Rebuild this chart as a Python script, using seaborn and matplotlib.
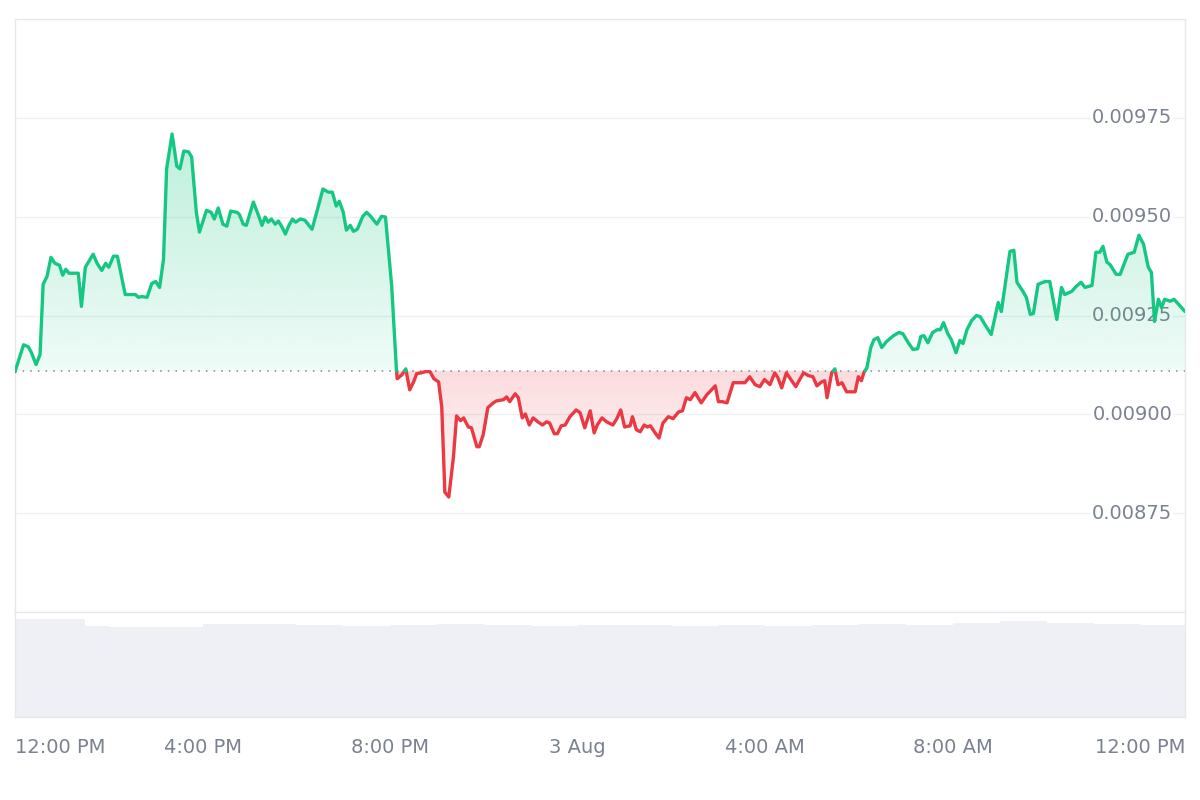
import numpy as np
import pandas as pd
import matplotlib
matplotlib.use("Agg")
import matplotlib.pyplot as plt
import seaborn as sns
from matplotlib.colors import to_rgb
from matplotlib.path import Path

# minutes after 12:00 PM (2 Aug)
minutes = [0, 11, 17, 21, 27, 32, 36, 41, 46, 51, 57, 61, 65, 69, 81, 85, 90, 100, 105, 111,
           116, 120, 126, 131, 141, 154, 158, 162, 169, 175, 180, 185, 190, 194, 201, 207, 211, 216, 222, 226,
           232, 236, 245, 251, 255, 260,
           266, 271, 276, 284, 287, 292, 296, 305, 311, 316, 320, 324, 328, 333, 337, 341, 346, 350, 355, 359,
           365, 371, 380, 386, 394, 401, 406, 411, 415, 420, 424, 429, 433, 438, 445, 450, 455, 463, 469, 474,
           482, 488,
           489, 495, 500, 505, 510, 514, 520, 525, 531, 536, 542, 546, 550, 555, 561, 565, 570, 574, 580, 584,
           591, 594, 599, 605, 612, 616, 625, 629, 633, 640, 644, 649, 653, 658, 663, 669, 675, 680, 684, 690,
           694, 699, 704, 710, 718, 723, 729, 736,
           741, 745, 751, 757, 765, 770, 775, 780, 787, 790, 795, 800, 805, 809, 813, 819, 824, 829, 836, 842,
           849, 854, 859, 864, 870, 878, 885, 896, 900, 905, 911, 919, 927, 934, 940, 947, 953, 959, 966, 972,
           976, 981, 987, 991, 999, 1004, 1009, 1015, 1021, 1026, 1032, 1036, 1039, 1045, 1049, 1053, 1058, 1064,
           1072, 1075, 1079, 1083, 1086, 1090,
           1095, 1099, 1104, 1109, 1115, 1124, 1131, 1136, 1143, 1149, 1155, 1159, 1163, 1168, 1174, 1180, 1184,
           1188, 1194, 1198, 1204, 1209, 1213, 1218, 1224, 1230, 1235, 1241, 1249, 1258, 1262, 1273, 1278,
           1282, 1289, 1294, 1299, 1303, 1309, 1318, 1324, 1333, 1339, 1343, 1352, 1358, 1364, 1369, 1378,
           1383, 1388, 1392, 1397, 1401, 1409, 1414, 1420, 1424, 1432, 1438, 1444, 1450, 1454, 1458, 1463,
           1467, 1471, 1478, 1483, 1488, 1497]

# price in units of 1e-5 USD
price_e5 = [910.8, 917.6, 917.1, 915.6, 912.6, 915.1, 932.9, 934.9, 939.7, 938.2, 937.7, 935.2, 936.7, 935.7,
            935.7, 927.3, 937.2, 940.5, 938.2, 936.4, 938.2, 937.2, 940.0, 940.0, 930.3, 930.3, 929.6, 929.8,
            929.6, 933.1, 933.6, 932.1, 939.2, 962.1, 970.9, 962.8, 962.1, 966.6, 966.4, 965.1, 951.1, 946.1,
            951.6, 951.1, 949.4, 952.2,
            948.1, 947.6, 951.4, 951.1, 950.6, 948.1, 947.8, 953.7, 950.6, 947.8, 949.9, 948.6, 949.4, 948.1,
            948.9, 947.6, 945.6, 947.6, 949.4, 948.6, 949.4, 949.1, 946.8, 951.1, 957.0, 956.2, 956.2, 952.7,
            953.9, 951.1, 946.6, 947.8, 946.3, 946.8, 950.1, 951.1, 950.1, 948.1, 950.1, 949.9, 932.4, 911.3,
            909.0, 910.0, 911.5, 906.2, 908.2, 910.3, 910.5, 910.8, 910.8, 909.0, 908.2, 901.9, 880.3, 879.1,
            889.2, 899.6, 898.4, 899.1, 896.8, 896.6, 891.8, 891.8, 894.8, 901.7, 902.9, 903.4, 903.7, 904.4,
            903.2, 905.2, 904.2, 899.1, 900.1, 897.3, 899.1, 898.1, 897.3, 898.1, 897.8, 895.1, 895.1, 897.1,
            897.3, 899.4, 901.1, 900.4, 896.6, 900.9,
            895.3, 897.3, 899.1, 898.1, 897.3, 898.9, 901.1, 896.8, 897.1, 899.4, 896.1, 895.6, 897.3, 896.8,
            897.1, 895.3, 894.0, 897.8, 899.4, 898.9, 900.6, 900.9, 904.2, 903.7, 905.5, 902.9, 904.9, 907.2,
            903.2, 903.2, 902.9, 908.0, 908.0, 908.0, 909.5, 907.5, 907.0, 908.8, 907.5, 910.5, 909.3, 906.7,
            910.5, 909.3, 907.0, 908.8, 910.5, 909.8, 909.5, 907.2, 908.2, 908.5, 904.2, 910.5, 911.5, 907.5,
            908.0, 905.7, 905.7, 905.7, 909.5, 908.5, 910.5, 911.8,
            916.9, 918.9, 919.4, 916.9, 918.4, 919.9, 920.7, 920.4, 918.1, 916.4, 916.6, 919.7, 919.9, 918.1,
            920.7, 921.4, 921.4, 923.2, 920.2, 918.9, 915.6, 918.7, 917.9, 921.4, 923.7, 925.0, 924.7, 922.7,
            920.2, 928.3, 926.0, 941.2, 941.5,
            933.4, 931.3, 929.6, 925.3, 925.5, 932.9, 933.6, 933.6, 924.0, 932.1, 930.3, 931.1, 932.4, 933.4,
            932.1, 932.6, 941.0, 941.0, 942.5, 938.5, 937.9, 935.4, 935.4, 938.5, 940.5, 941.0, 945.3, 943.0,
            937.2, 935.9, 923.5, 929.1, 927.0, 929.1, 928.6, 929.1, 928.0, 926.0]

open_price = 0.009110

# volume strip (relative height), roughly hourly
vol_minutes = [0, 60, 90, 120, 180, 240, 300, 360, 420, 480, 540, 600, 660, 720, 780, 840, 900,
               960, 1020, 1080, 1140, 1200, 1260, 1320, 1380, 1440, 1497]
vol_level = [0.93, 0.93, 0.87, 0.86, 0.86, 0.89, 0.89, 0.88, 0.87, 0.88, 0.89, 0.88, 0.87, 0.88,
             0.88, 0.87, 0.88, 0.87, 0.88, 0.89, 0.88, 0.90, 0.91, 0.90, 0.89, 0.88, 0.88]

tick_minutes = [0, 240, 480, 720, 960, 1200, 1440]
tick_labels = ["12:00 PM", "4:00 PM", "8:00 PM", "3 Aug", "4:00 AM", "8:00 AM", "12:00 PM"]
price_ticks = [0.00875, 0.00900, 0.00925, 0.00950, 0.00975]

GREEN = "#16c784"
RED = "#ea3943"
TXT = "#7a8190"

sns.set_theme(style="white")
plt.rcParams["font.family"] = ["DejaVu Sans"]

t = np.array(minutes, dtype=float)
p = np.array(price_e5) * 1e-5
assert len(t) == len(p)

# split the line into above / below runs where it crosses the open price
rows = []
seg = 0
side = "up" if p[0] >= open_price else "down"
rows.append((t[0], p[0], seg, side))
for i in range(1, len(t)):
    a, b = p[i - 1] - open_price, p[i] - open_price
    if a * b < 0:
        f = a / (a - b)
        xc = t[i - 1] + f * (t[i] - t[i - 1])
        rows.append((xc, open_price, seg, side))
        seg += 1
        side = "up" if b > 0 else "down"
        rows.append((xc, open_price, seg, side))
    rows.append((t[i], p[i], seg, side))
df = pd.DataFrame(rows, columns=["t", "price", "seg", "side"])

fig = plt.figure(figsize=(12, 8), dpi=100)
ax = fig.add_axes([15 / 1200, 188 / 800, 1170 / 1200, 593 / 800])
axv = fig.add_axes([15 / 1200, 83 / 800, 1170 / 1200, 105 / 800])

# grid
for y in price_ticks:
    ax.axhline(y, color="#eef0f3", lw=1, zorder=0.5)

# price line
sns.lineplot(data=df, x="t", y="price", units="seg", estimator=None, hue="side",
             palette={"up": GREEN, "down": RED}, sort=False, legend=False,
             lw=2.4, zorder=4, ax=ax)


def gradient_fill(where, color, y_top, y_bot, a_top, a_bot):
    poly = ax.fill_between(df["t"], df["price"], open_price, where=where,
                           interpolate=True, facecolor="none", edgecolor="none")
    grad = np.zeros((256, 1, 4))
    grad[..., :3] = to_rgb(color)
    grad[..., 3] = np.linspace(a_top, a_bot, 256)[:, None]
    im = ax.imshow(grad, aspect="auto", origin="upper", zorder=2,
                   extent=[df["t"].min(), df["t"].max(), y_bot, y_top])
    clip = Path.make_compound_path(*poly.get_paths())
    im.set_clip_path(clip, ax.transData)


gradient_fill(df["price"] >= open_price, GREEN, df["price"].max(), open_price, 0.28, 0.07)
gradient_fill(df["price"] <= open_price, RED, open_price, df["price"].min(), 0.18, 0.02)

ax.axhline(open_price, color="#80868f", lw=1.1, ls=(0, (1, 4)), zorder=3)

# price labels inside the plot, right side
for y in price_ticks:
    ax.text(0.989, y, f"{y:.5f}", transform=ax.get_yaxis_transform(), ha="right",
            va="center", fontsize=14, color=TXT, zorder=1,
            bbox=dict(boxstyle="square,pad=0.05", fc="white", ec="none"))

ax.set_xlim(0, 1497)
ax.set_ylim(0.00850, 0.01000)
ax.set_xticks([])
ax.set_yticks([])
ax.set_xlabel("")
ax.set_ylabel("")
for s in ["top", "left", "right"]:
    ax.spines[s].set_color("#e6e8ec")
    ax.spines[s].set_linewidth(1)
ax.spines["bottom"].set_visible(False)

# volume strip
axv.fill_between(vol_minutes, vol_level, 0, step="post", color="#eef0f5", lw=0)
axv.set_xlim(0, 1497)
axv.set_ylim(0, 1)
axv.set_yticks([])
for s in ["top", "left", "right", "bottom"]:
    axv.spines[s].set_color("#e6e8ec")
    axv.spines[s].set_linewidth(1)
axv.set_xticks(tick_minutes)
axv.set_xticklabels(tick_labels, fontsize=14, color=TXT)
first = axv.get_xticklabels()[0]
first.set_horizontalalignment("left")
first.set_x(3)
axv.tick_params(axis="x", length=0, pad=15)

fig.savefig("out.png", dpi=100, facecolor="white")
